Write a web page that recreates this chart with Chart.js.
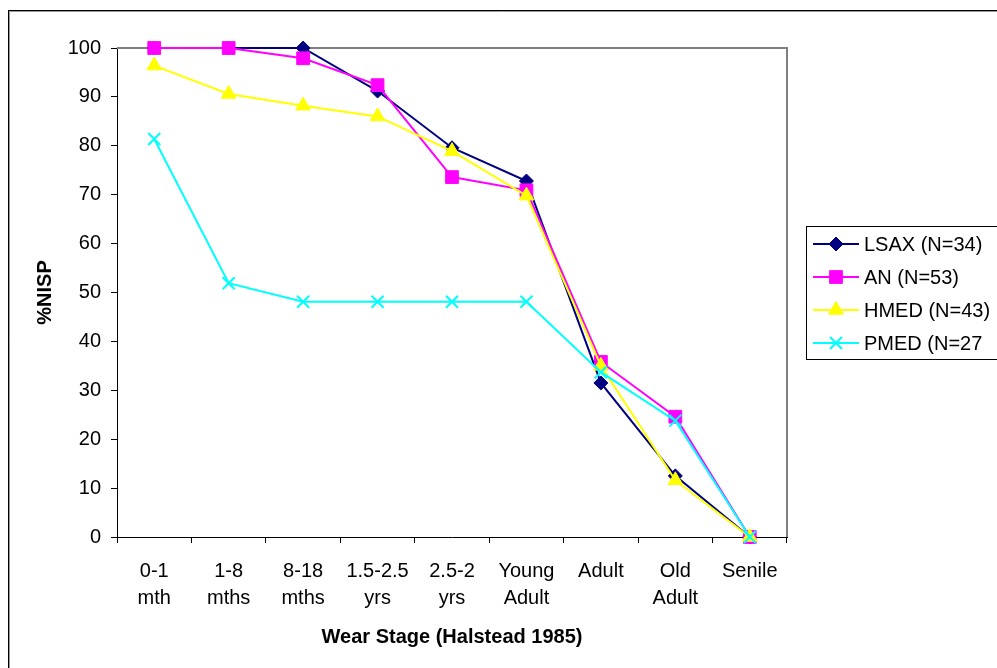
<!DOCTYPE html>
<html>
<head>
<meta charset="utf-8">
<script src="https://cdn.jsdelivr.net/npm/chart.js@4/dist/chart.umd.min.js"></script>
<style>
  body { margin: 0; background: #fff; }
  #wrap { width: 997px; height: 668px; position: relative; }
</style>
</head>
<body>
<div id="wrap"><canvas id="grafico"></canvas></div>
<script>
// categorias del eje x (dos lineas por etiqueta)
const etapas = [
  ["0-1", "mth"], ["1-8", "mths"], ["8-18", "mths"], ["1.5-2.5", "yrs"],
  ["2.5-2", "yrs"], ["Young", "Adult"], ["Adult"], ["Old", "Adult"], ["Senile"]
];
const series = ["LSAX (N=34)", "AN (N=53)", "HMED (N=43)", "PMED (N=27"];
const lsax = [100, 100, 100, 91.2, 79.6, 72.8, 31.5, 12.5, 0];
const an = [100, 100, 97.9, 92.4, 73.6, 70.9, 35.8, 24.6, 0];
const hmed = [96.4, 90.6, 88.2, 86, 78.9, 69.8, 35, 11.6, 0];
const pmed = [81.4, 51.9, 48.1, 48.1, 48.1, 48.1, 33.7, 23.8, 0];
const y_ticks = [0, 10, 20, 30, 40, 50, 60, 70, 80, 90, 100];

const fuente = "'Liberation Sans', Arial, sans-serif";
const colores = ["#000080", "#ff00ff", "#ffff00", "#00ffff"];
const estilos = ["rectRot", "rect", "triangle", "crossRot"];
const radios = [7, 9, 8.5, 8.5];

function dataset(i, valores) {
  return {
    label: series[i],
    data: valores,
    order: series.length - 1 - i, // la ultima serie queda encima
    borderColor: colores[i],
    backgroundColor: colores[i],
    borderWidth: 2,
    pointStyle: estilos[i],
    pointRadius: radios[i],
    pointHoverRadius: radios[i],
    pointBorderWidth: estilos[i] == "crossRot" ? 2 : 1,
    tension: 0,
    clip: false
  };
}

// marco exterior, borde gris del area y leyenda
const marco = {
  id: "marco",
  beforeDatasetsDraw(chart) {
    let ctx = chart.ctx;
    let a = chart.chartArea;
    ctx.save();
    ctx.strokeStyle = "#808080";
    ctx.lineWidth = 2;
    ctx.beginPath();
    ctx.moveTo(a.left, a.top);
    ctx.lineTo(a.right, a.top);
    ctx.lineTo(a.right, a.bottom);
    ctx.stroke();
    ctx.restore();
  },
  afterDraw(chart) {
    let ctx = chart.ctx;
    ctx.save();
    ctx.strokeStyle = "#000";
    ctx.lineWidth = 1;
    ctx.strokeRect(8.5, 10.5, 1000, 700);
    ctx.strokeStyle = "#999";
    ctx.beginPath();
    ctx.moveTo(9.5, 11.5); ctx.lineTo(9.5, 668);
    ctx.moveTo(9.5, 11.5); ctx.lineTo(997, 11.5);
    ctx.stroke();

    // leyenda
    ctx.strokeStyle = "#000";
    ctx.strokeRect(806.5, 226.5, 300, 133);
    ctx.font = "20px " + fuente;
    ctx.textBaseline = "middle";
    ctx.textAlign = "left";
    for (let i = 0; i < series.length; i++) {
      let y = 244 + i * 33;
      ctx.strokeStyle = colores[i];
      ctx.fillStyle = colores[i];
      ctx.lineWidth = 2;
      ctx.beginPath();
      ctx.moveTo(813, y);
      ctx.lineTo(859, y);
      ctx.stroke();
      ctx.lineWidth = estilos[i] == "crossRot" ? 2 : 1;
      Chart.helpers.drawPoint(ctx, {pointStyle: estilos[i], radius: radios[i], rotation: 0, borderWidth: ctx.lineWidth}, 836, y);
      ctx.fillStyle = "#000";
      ctx.fillText(series[i], 864, y + 1);
    }
    ctx.restore();
  }
};

let ctx = document.getElementById("grafico").getContext("2d");
new Chart(ctx, {
  type: "line",
  data: {
    labels: etapas,
    datasets: [dataset(0, lsax), dataset(1, an), dataset(2, hmed), dataset(3, pmed)]
  },
  options: {
    responsive: true,
    maintainAspectRatio: false,
    animation: false,
    layout: { padding: { top: 48, right: 210, bottom: 0, left: 0 } },
    plugins: {
      legend: { display: false },
      tooltip: { enabled: false }
    },
    scales: {
      x: {
        offset: true,
        grid: { offset: true, drawOnChartArea: false, tickLength: 6, color: "#000" },
        border: { color: "#000", width: 1 },
        ticks: {
          color: "#000", padding: 15, maxRotation: 0, autoSkip: false,
          font: { family: fuente, size: 20, lineHeight: 1.35 }
        },
        title: {
          display: true, text: "Wear Stage (Halstead 1985)", color: "#000",
          font: { family: fuente, size: 20, weight: "bold" },
          padding: { top: 0, bottom: 19 }
        },
        afterFit(scale) { scale.height = 131; }
      },
      y: {
        min: 0,
        max: 100,
        afterBuildTicks(scale) { scale.ticks = y_ticks.map(v => ({ value: v })); },
        grid: { drawOnChartArea: false, tickLength: 6, color: "#000" },
        border: { color: "#000", width: 1 },
        ticks: {
          color: "#000", padding: 10,
          font: { family: fuente, size: 20 }
        },
        title: {
          display: true, text: "%NISP", color: "#000",
          font: { family: fuente, size: 20, weight: "bold" },
          padding: { top: 33, bottom: 0 }
        },
        afterFit(scale) { scale.width = 117; }
      }
    }
  },
  plugins: [marco]
});
</script>
</body>
</html>
